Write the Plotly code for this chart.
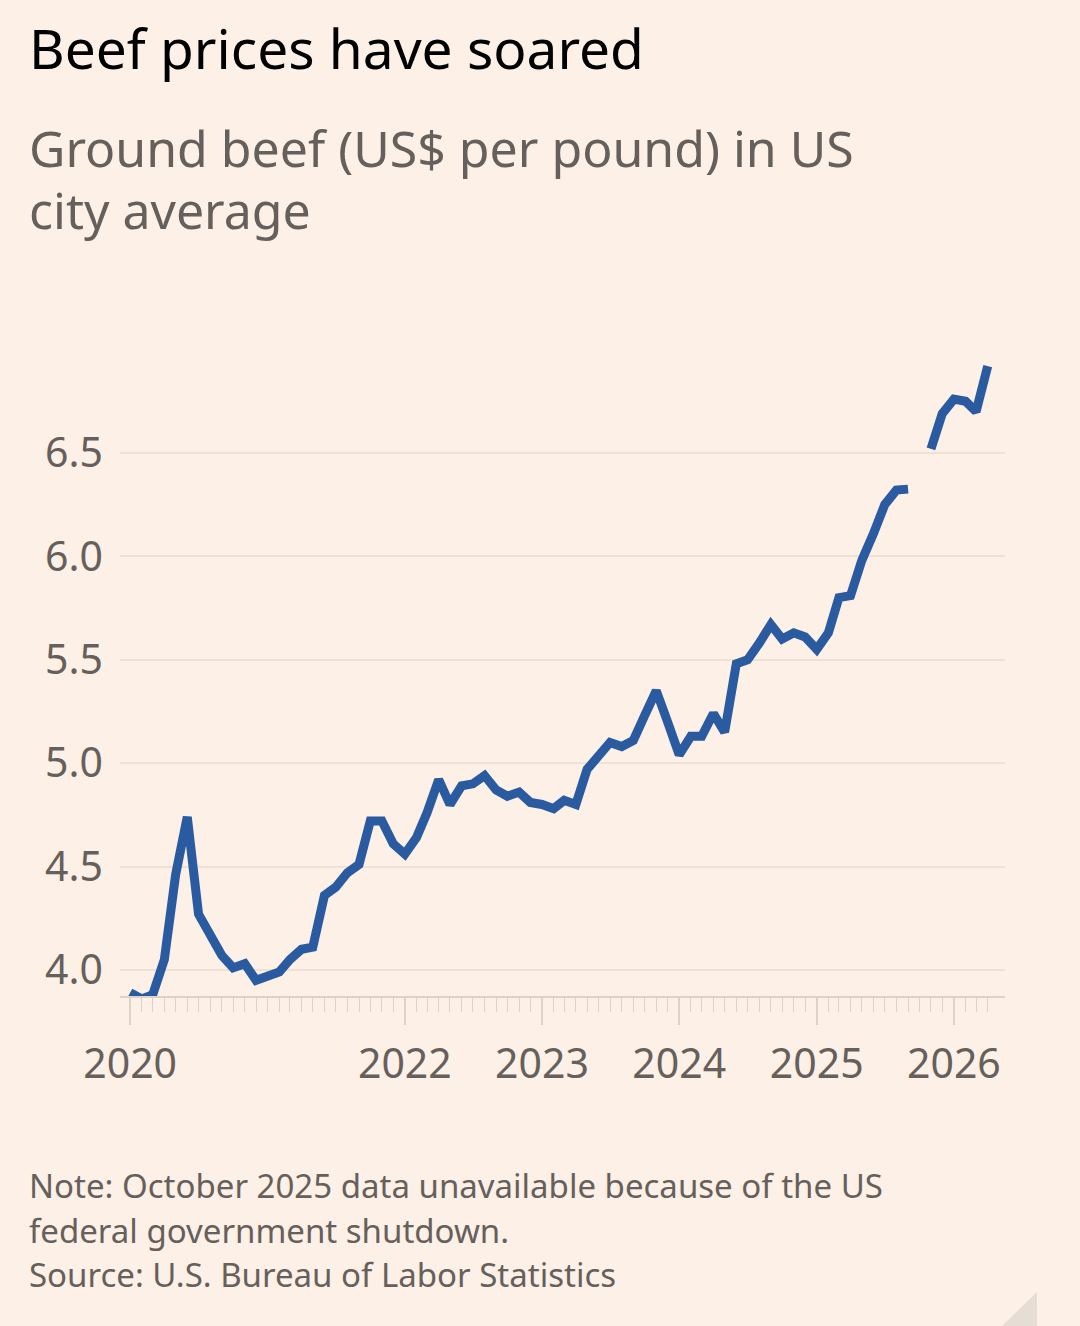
import plotly.graph_objects as go
import pandas as pd

# ---- data ----
start_month = "2020-01-01"
end_month = "2026-04-01"
prices = [
    3.89, 3.86, 3.88, 4.05, 4.46, 4.74, 4.27, 4.18, 4.07, 4.01, 4.03, 3.95,   # 2020
    3.97, 3.99, 4.05, 4.10, 4.11, 4.36, 4.40, 4.47, 4.51, 4.72, 4.72, 4.61,   # 2021
    4.56, 4.64, 4.76, 4.92, 4.80, 4.89, 4.90, 4.94, 4.87, 4.84, 4.86, 4.81,   # 2022
    4.80, 4.78, 4.82, 4.80, 4.97, 5.03, 5.10, 5.08, 5.11, 5.23, 5.35, 5.20,   # 2023
    5.04, 5.13, 5.13, 5.24, 5.15, 5.48, 5.50, 5.58, 5.67, 5.60, 5.63, 5.61,   # 2024
    5.55, 5.63, 5.80, 5.81, 5.98, 6.11, 6.25, 6.32, 6.325, None, 6.52, 6.69,  # 2025
    6.76, 6.75, 6.70, 6.92,                                                  # 2026
]
year_ticks = ["2020-01-01", "2021-01-01", "2022-01-01", "2023-01-01",
              "2024-01-01", "2025-01-01", "2026-01-01", "2026-04-01"]
year_labels = ["2020", "", "2022", "2023", "2024", "2025", "2026", ""]
y_ticks = [4.0, 4.5, 5.0, 5.5, 6.0, 6.5]
y_labels = ["4.0", "4.5", "5.0", "5.5", "6.0", "6.5"]

title = "Beef prices have soared"
subtitle_lines = ["Ground beef (US$ per pound) in US", "city average"]
note_lines = ["Note: October 2025 data unavailable because of the US",
              "federal government shutdown.",
              "Source: U.S. Bureau of Labor Statistics"]

months = pd.date_range(start_month, end_month, freq="MS")

# ---- style ----
BG = "#FDF0E6"
LINE = "#2A5AA0"
GRAY = "#66605C"
GRID = "#EEE2D7"
AXIS = "#DDD2C8"
FONT = "Noto Sans"

W, H = 1080, 1326
L, R, T, B = 120, 75, 340, 330
pw, ph = W - L - R, H - T - B


def px(x):
    return (x - L) / pw


def py(y):
    return (H - B - y) / ph


fig = go.Figure()
fig.add_trace(go.Scatter(
    x=months, y=prices, mode="lines",
    line=dict(color=LINE, width=9),
    connectgaps=False, hoverinfo="skip", showlegend=False,
))

fig.update_layout(
    width=W, height=H,
    margin=dict(l=L, r=R, t=T, b=B),
    paper_bgcolor=BG, plot_bgcolor=BG,
    font=dict(family=FONT, color=GRAY),
    showlegend=False,
    xaxis=dict(
        type="date",
        range=["2019-12-05", "2026-05-17"],
        tickmode="array", tickvals=year_ticks, ticktext=year_labels,
        ticks="outside", ticklen=27, tickwidth=1.5, tickcolor=AXIS,
        tickfont=dict(size=41, color=GRAY, family=FONT),
        ticklabelstandoff=4,
        showgrid=False, zeroline=False,
        showline=True, linecolor=AXIS, linewidth=1.5,
        minor=dict(
            tickmode="array",
            tickvals=list(months),
            ticks="outside", ticklen=14, tickwidth=1.2, tickcolor=AXIS,
            showgrid=False,
        ),
    ),
    yaxis=dict(
        range=[3.874, 7.046],
        tickmode="array", tickvals=y_ticks, ticktext=y_labels,
        ticks="", showline=False, zeroline=False,
        showgrid=True, gridcolor=GRID, gridwidth=1.5,
        tickfont=dict(size=41, color=GRAY, family=FONT),
        ticklabelstandoff=16,
    ),
)

ann = []
ann.append(dict(text=title, x=px(27), y=py(47.5), xref="paper", yref="paper",
                xanchor="left", yanchor="middle", showarrow=False,
                font=dict(size=55, color="#000000", family=FONT)))
for txt, base in zip(subtitle_lines, [167, 229.5]):
    ann.append(dict(text=txt, x=px(27), y=py(base - 0.388 * 50), xref="paper", yref="paper",
                    xanchor="left", yanchor="middle", showarrow=False,
                    font=dict(size=50, color=GRAY, family=FONT)))
for txt, base in zip(note_lines, [1198, 1243, 1287]):
    ann.append(dict(text=txt, x=px(27), y=py(base - 0.388 * 33), xref="paper", yref="paper",
                    xanchor="left", yanchor="middle", showarrow=False,
                    font=dict(size=33, color=GRAY, family=FONT)))
fig.update_layout(annotations=ann)

fig.add_shape(type="path", xref="paper", yref="paper",
              path=f"M {px(1037)} {py(1292)} L {px(1037)} {py(1326)} L {px(1002)} {py(1326)} Z",
              fillcolor="#E6DDD4", line=dict(width=0), layer="above")

fig.write_html(
    "out.html",
    config={"displayModeBar": False},
    post_script="document.body.style.margin='0';document.body.style.background='" + BG + "';",
)
